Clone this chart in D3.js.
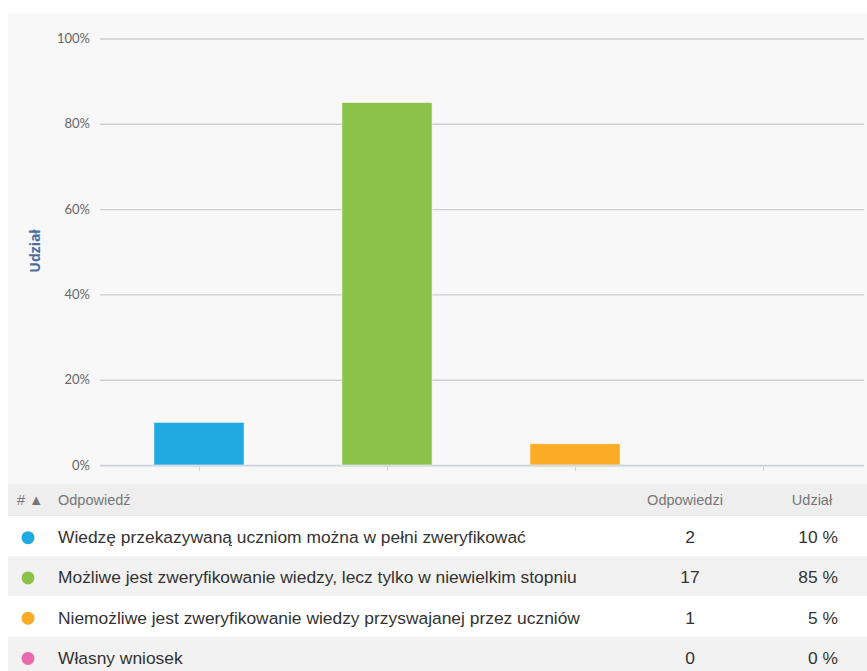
<!DOCTYPE html>
<html>
<head>
<meta charset="utf-8">
<script src="https://cdn.jsdelivr.net/npm/d3@7/dist/d3.min.js"></script>
<style>
html,body{margin:0;padding:0;background:#fff;}
svg{display:block;}
</style>
</head>
<body>
<svg id="chart" width="867" height="671"></svg>
<script>
const categories = [
  "Wiedzę przekazywaną uczniom można w pełni zweryfikować",
  "Możliwe jest zweryfikowanie wiedzy, lecz tylko w niewielkim stopniu",
  "Niemożliwe jest zweryfikowanie wiedzy przyswajanej przez uczniów",
  "Własny wniosek"
];
const counts = [2, 17, 1, 0];
const shares = [10, 85, 5, 0];
const colors = ["#1fa9e1", "#8bc34a", "#fcab27", "#e86aad"];
const yTicks = [0, 20, 40, 60, 80, 100];
const headers = ["# ▲", "Odpowiedź", "Odpowiedzi", "Udział"];
const yTitle = "Udział";

const svg = d3.select("#chart");

// chart panel background
svg.append("rect").attr("x", 8).attr("y", 13).attr("width", 859).attr("height", 471).attr("fill", "#f8f8f8");

const y = d3.scaleLinear().domain([0, 100]).range([465, 38.5]);
const x = d3.scaleBand().domain(d3.range(categories.length)).range([105, 857]).paddingInner(0.52).paddingOuter(0.26);
const xc = d3.scaleBand().domain(d3.range(categories.length)).range([105, 857]);

// gridlines
const yAxis = d3.axisLeft(y).tickValues(yTicks).tickFormat(d => d + "%").tickSize(-764).tickPadding(10);
const gy = svg.append("g").attr("transform", "translate(100,0)").call(yAxis);
gy.select(".domain").remove();
gy.selectAll(".tick line").attr("stroke", "#cfcfcf").attr("stroke-width", 1.4);
gy.selectAll(".tick text").attr("fill", "#666").attr("font-family", "Lato, 'Open Sans', sans-serif").attr("font-size", "13px").attr("x", -10);

// bars
svg.append("g").selectAll("rect").data(shares).join("rect")
  .attr("x", (d, i) => x(i))
  .attr("y", d => y(d))
  .attr("width", x.bandwidth())
  .attr("height", d => y(0) - y(d))
  .attr("fill", (d, i) => colors[i])
  .attr("stroke", "#fff")
  .attr("stroke-width", 1)
  .attr("stroke-opacity", 0.6);

// x axis line with ticks at category centers
const xAxis = d3.axisBottom(d3.scaleLinear().domain([0, 1]).range([100, 864])).tickValues([]).tickSizeOuter(0);
const gx = svg.append("g").attr("transform", "translate(0,465.5)").call(xAxis);
gx.select(".domain").attr("stroke", "#ccd6eb");
svg.append("g").selectAll("line").data(d3.range(categories.length)).join("line")
  .attr("x1", i => Math.round(xc(i) + xc.bandwidth() / 2) + 0.5)
  .attr("x2", i => Math.round(xc(i) + xc.bandwidth() / 2) + 0.5)
  .attr("y1", 466).attr("y2", 471)
  .attr("stroke", "#ccd6eb");

// y axis title
svg.append("text")
  .attr("transform", "translate(40,251) rotate(-90)")
  .attr("text-anchor", "middle")
  .attr("font-family", "'Open Sans', sans-serif")
  .attr("font-size", "14px")
  .attr("font-weight", "bold")
  .attr("fill", "#4a6f9c")
  .text(yTitle);

// table header
svg.append("rect").attr("x", 8).attr("y", 484).attr("width", 859).attr("height", 31).attr("fill", "#eeeeee");
svg.append("line").attr("x1", 8).attr("x2", 867).attr("y1", 515.5).attr("y2", 515.5).attr("stroke", "#e2e2e2");
const hf = "'Liberation Sans', Arial, sans-serif";
const headerX = [17, 58, 685, 812];
const headerAnchor = ["start", "start", "middle", "middle"];
svg.append("g").selectAll("text").data(headers).join("text")
  .attr("x", (d, i) => headerX[i])
  .attr("y", 505)
  .attr("text-anchor", (d, i) => headerAnchor[i])
  .attr("font-family", hf)
  .attr("font-size", "14.5px")
  .attr("fill", "#777")
  .text(d => d);

// rows
const rowY = d3.scaleBand().domain(d3.range(categories.length)).range([516, 677]);
const rows = svg.append("g").selectAll("g").data(categories).join("g")
  .attr("transform", (d, i) => `translate(0,${rowY(i)})`);
rows.append("rect").attr("x", 8).attr("y", 0).attr("width", 859).attr("height", rowY.bandwidth())
  .attr("fill", (d, i) => i % 2 ? "#f2f2f2" : "#ffffff");
rows.append("circle").attr("cx", 28).attr("cy", rowY.bandwidth() / 2 + 1.5).attr("r", 6.5)
  .attr("fill", (d, i) => colors[i]);
rows.append("text").attr("x", 58).attr("y", rowY.bandwidth() / 2 + 7)
  .attr("font-family", hf).attr("font-size", "17.4px").attr("fill", "#333")
  .text(d => d);
rows.append("text").attr("x", 690).attr("y", rowY.bandwidth() / 2 + 7)
  .attr("text-anchor", "middle")
  .attr("font-family", hf).attr("font-size", "17.4px").attr("fill", "#333")
  .text((d, i) => counts[i]);
rows.append("text").attr("x", 838).attr("y", rowY.bandwidth() / 2 + 7)
  .attr("text-anchor", "end")
  .attr("font-family", hf).attr("font-size", "17.4px").attr("fill", "#333")
  .text((d, i) => shares[i] + " %");
</script>
</body>
</html>
